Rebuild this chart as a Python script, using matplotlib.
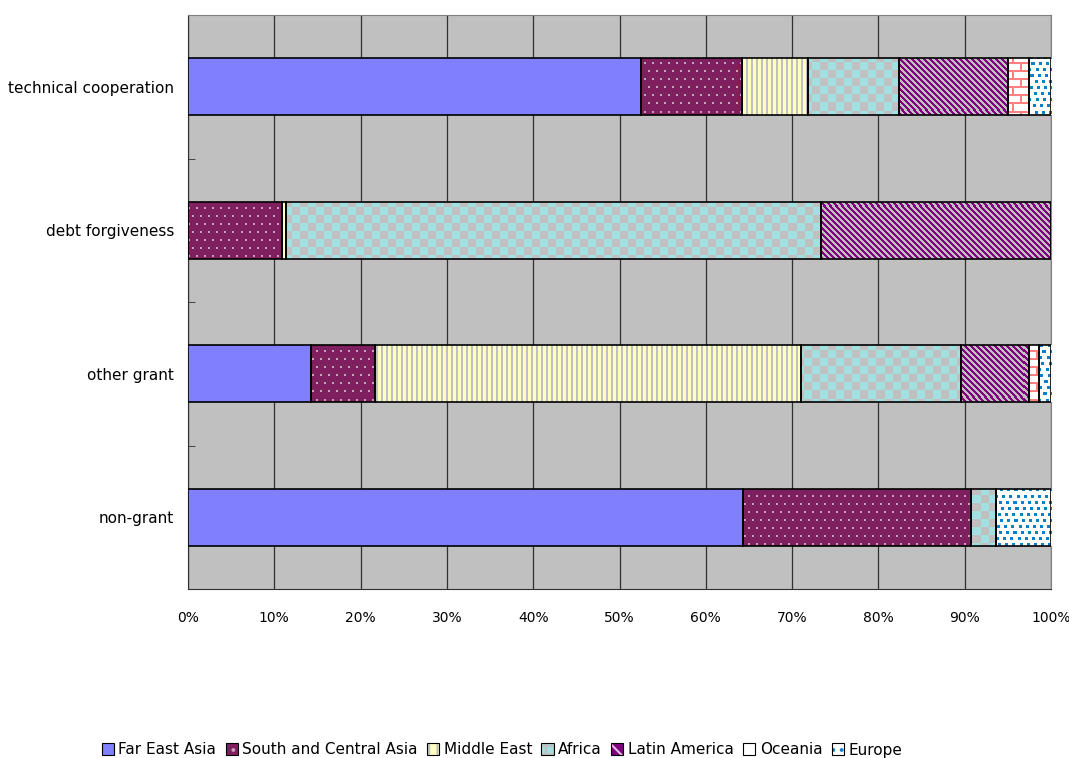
import numpy as np
import matplotlib
matplotlib.use("Agg")
from matplotlib import pyplot as plt
from matplotlib.patches import Patch
from matplotlib.legend_handler import HandlerTuple

categories = ['technical cooperation', 'debt forgiveness', 'other grant', 'non-grant']
regions = ['Far East Asia', 'South and Central Asia', 'Middle East', 'Africa',
           'Latin America', 'Oceania', 'Europe']

# share of each region (%) per aid type, in category order
far_east = [52.5, 0.0, 14.3, 64.3]
south_central = [11.7, 10.9, 7.4, 26.4]
middle_east = [7.7, 0.5, 49.3, 0.0]
africa = [10.5, 62.0, 18.6, 2.9]
latin_america = [12.6, 26.6, 7.9, 0.0]
oceania = [2.4, 0.0, 1.1, 0.0]
europe = [2.6, 0.0, 1.4, 6.4]

series = [far_east, south_central, middle_east, africa, latin_america, oceania, europe]

W, H = 863, 574  # axes size in pixels


def rgb(h):
    h = h.lstrip('#')
    return np.array([int(h[i:i + 2], 16) / 255 for i in (0, 2, 4)])


def texture(kind):
    r, c = np.mgrid[0:H, 0:W]
    img = np.zeros((H, W, 3))
    if kind == 'dots':
        img[:] = rgb('#7F1F5F')
        shift = (r // 8) % 2 * 4
        m = ((r % 8) < 2) & (((c + shift) % 8) < 2)
        img[m] = rgb('#C8A0BC')
    elif kind == 'vstripe':
        img[:] = rgb('#FFFFC0')
        img[(c % 5) >= 3] = rgb('#C0C0C0')
    elif kind == 'checker':
        img[:] = rgb('#C0C0C0')
        img[((r // 8) + (c // 8)) % 2 == 0] = rgb('#A0E0E0')
    elif kind == 'diag':
        img[:] = rgb('#C0C0C0')
        img[((c - r) % 6) < 3] = rgb('#800080')
    elif kind == 'brick':
        img[:] = rgb('#FFFFFF')
        shift = (r // 8) % 2 * 8
        m = ((r % 8) < 2) | (((c + shift) % 16) < 2)
        img[m] = rgb('#FF8080')
    elif kind == 'speckle':
        img[:] = rgb('#FFFFFF')
        row = r // 6
        shift = (row * 3 + (row // 2) * 2) % 7
        m = ((r % 6) < 3) & (((c + shift) % 7) < 3)
        img[m] = rgb('#0A80C8')
    return img


# face colour / pattern per region; legend colour and hatch
styles = [
    ('#8080FF', None, None, '#8080FF'),
    ('#7F1F5F', 'dots', '..', '#C8A0BC'),
    ('#FFFFC0', 'vstripe', '||', '#C0C0C0'),
    ('#A0E0E0', 'checker', '++', '#C0C0C0'),
    ('#800080', 'diag', '\\\\', '#E0C0E0'),
    ('#FFFFFF', 'brick', '+', '#FF8080'),
    ('#FFFFFF', 'speckle', '..', '#0A80C8'),
]

plt.rcParams['hatch.linewidth'] = 1.5

fig = plt.figure(figsize=(10.69, 7.58), dpi=100)
ax = fig.add_axes([188 / 1069, 1 - 589 / 758, W / 1069, H / 758])
ax.set_facecolor('#C0C0C0')

y = np.arange(len(categories))
ymin, ymax = len(categories) - 0.5, -0.5
left = np.zeros(len(categories))
for vals, (fc, pat, hatch, hc) in zip(series, styles):
    vals = np.array(vals)
    bars = ax.barh(y, vals, left=left, height=0.4, color=fc, linewidth=0, zorder=3)
    if pat is not None:
        tex = texture(pat)
        for b in bars:
            if b.get_width() <= 0:
                continue
            im = ax.imshow(tex, extent=(0, 100, ymin, ymax), origin='upper',
                           aspect='auto', interpolation='nearest', zorder=3.5)
            im.set_clip_path(b)
    ax.barh(y, vals, left=left, height=0.4, facecolor='none',
            edgecolor='black', linewidth=1.2, zorder=4)
    left += vals

ax.set_xlim(0, 100)
ax.set_ylim(ymin, ymax)
ax.set_xticks(np.arange(0, 101, 10))
ax.set_xticklabels([f'{v}%' for v in range(0, 101, 10)], fontsize=10)
ax.set_yticks(y)
ax.set_yticklabels(categories, fontsize=11)
ax.set_yticks(np.arange(0.5, len(categories) - 0.5, 1), minor=True)
ax.tick_params(axis='y', which='major', length=0, pad=10)
ax.tick_params(axis='y', which='minor', length=5, direction='in', color='#303030')
ax.tick_params(axis='x', length=0, pad=16)
ax.grid(axis='x', color='#303030', linewidth=0.9, zorder=1)
ax.set_axisbelow(True)
for s in ax.spines.values():
    s.set_color('#808080')
    s.set_linewidth(0.8)
ax.spines['bottom'].set_color('#303030')
ax.spines['left'].set_color('#303030')

handles = [(Patch(facecolor=fc, hatch=h, edgecolor=hc, linewidth=0),
            Patch(facecolor='none', edgecolor='black', linewidth=0.8))
           for fc, pat, h, hc in styles]
fig.legend(handles, regions, loc='center', bbox_to_anchor=(502 / 1069, 1 - 750 / 758),
           ncol=7, frameon=False, fontsize=11, handlelength=0.8, handleheight=0.8,
           handletextpad=0.3, columnspacing=0.6, borderpad=0,
           handler_map={tuple: HandlerTuple(ndivide=1, pad=0)})

fig.savefig('out.png', dpi=100)
